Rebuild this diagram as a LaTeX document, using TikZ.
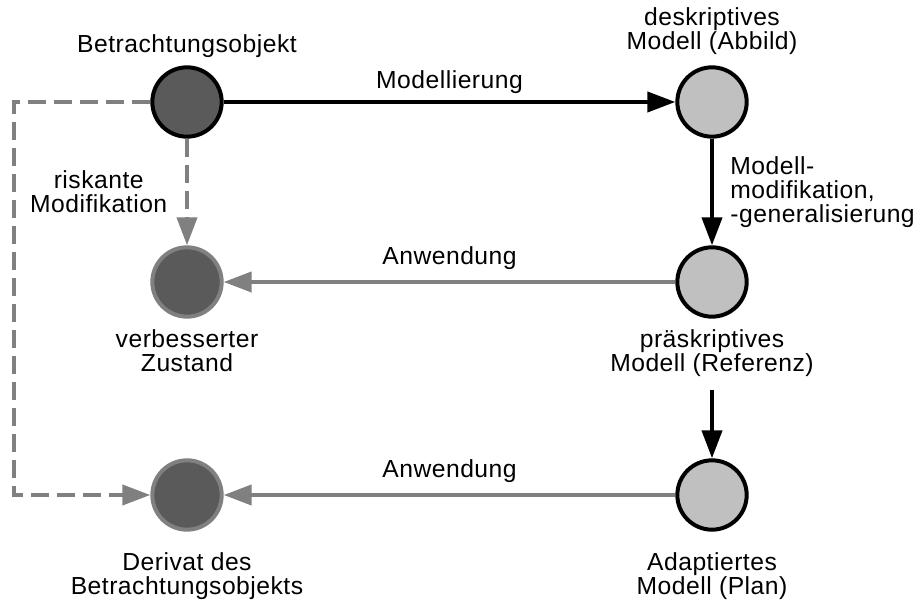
\documentclass[tikz,border=0pt]{standalone}
\usepackage{fontspec}
\setmainfont{Liberation Sans}[LetterSpace=2]
\usepackage{tikz}
\usetikzlibrary{arrows.meta}

\definecolor{dunkel}{HTML}{5A5A5A}
\definecolor{hell}{HTML}{C0C0C0}
\definecolor{grau}{HTML}{808080}

\tikzset{
    objekt/.style={circle, draw=black, line width=3pt, fill=dunkel, minimum size=52pt, inner sep=0pt},
    ergebnis/.style={circle, draw=grau, line width=3pt, fill=dunkel, minimum size=52pt, inner sep=0pt},
    modell/.style={circle, draw=black, line width=3pt, fill=hell, minimum size=52pt, inner sep=0pt},
    beschr/.style={align=center, anchor=base, inner sep=0pt},
    spitze/.style={-{Triangle[length=21pt,width=15pt]}},
    schwarzpfeil/.style={spitze, line width=3pt, draw=black},
    graupfeil/.style={spitze, line width=3pt, draw=grau},
    riskpfeil/.style={graupfeil, dash pattern=on 13.5pt off 6pt},
}

\begin{document}
\begin{tikzpicture}[x=0.75pt, y=-0.75pt, font=\fontsize{18.5pt}{18pt}\selectfont]
    \useasboundingbox (0,0) rectangle (920,605);
    \node[objekt](betr)                 at (187,102) {};
    \node[modell](desk)                 at (712,102) {};
    \node[ergebnis](verb)               at (187,282) {};
    \node[modell](praes)                at (712,282) {};
    \node[ergebnis](deriv)              at (187,495) {};
    \node[modell](adapt)                at (712,495) {};
    % Beschriftungen (Grundlinie der letzten Zeile)
    \node[beschr](betrL)                at (187,53) {Betrachtungsobjekt};
    \node[beschr](deskL)                at (712,50) {deskriptives\\Modell (Abbild)};
    \node[beschr](verbL)                at (187,372) {verbesserter\\Zustand};
    \node[beschr](praesL)               at (712,372) {präskriptives\\Modell (Referenz)};
    \node[beschr](derivL)               at (187,594) {Derivat des\\Betrachtungsobjekts};
    \node[beschr](adaptL)               at (712,594) {Adaptiertes\\Modell (Plan)};
    \coordinate (links)                 at (14,300);
    \coordinate (planstart)             at (712,390);
    % Transitions
    \path
        (betr)
            edge [schwarzpfeil] node [above=1.5pt] {Modellierung} (desk)
            edge [riskpfeil] node [left=10pt, align=center] {riskante\\Modifikation} (verb)
        (desk)
            edge [schwarzpfeil] node [right=9pt, align=left] {Modell-\\modifikation,\\-generalisierung} (praes)
        (praes)
            edge [graupfeil] node [above=4.3pt] {Anwendung} (verb)
        (planstart)
            edge [schwarzpfeil] (adapt)
        (adapt)
            edge [graupfeil] node [above=4.3pt] {Anwendung} (deriv)
        ;
    \draw[riskpfeil] (betr.west) -| (links) |- (deriv);
\end{tikzpicture}
\end{document}
